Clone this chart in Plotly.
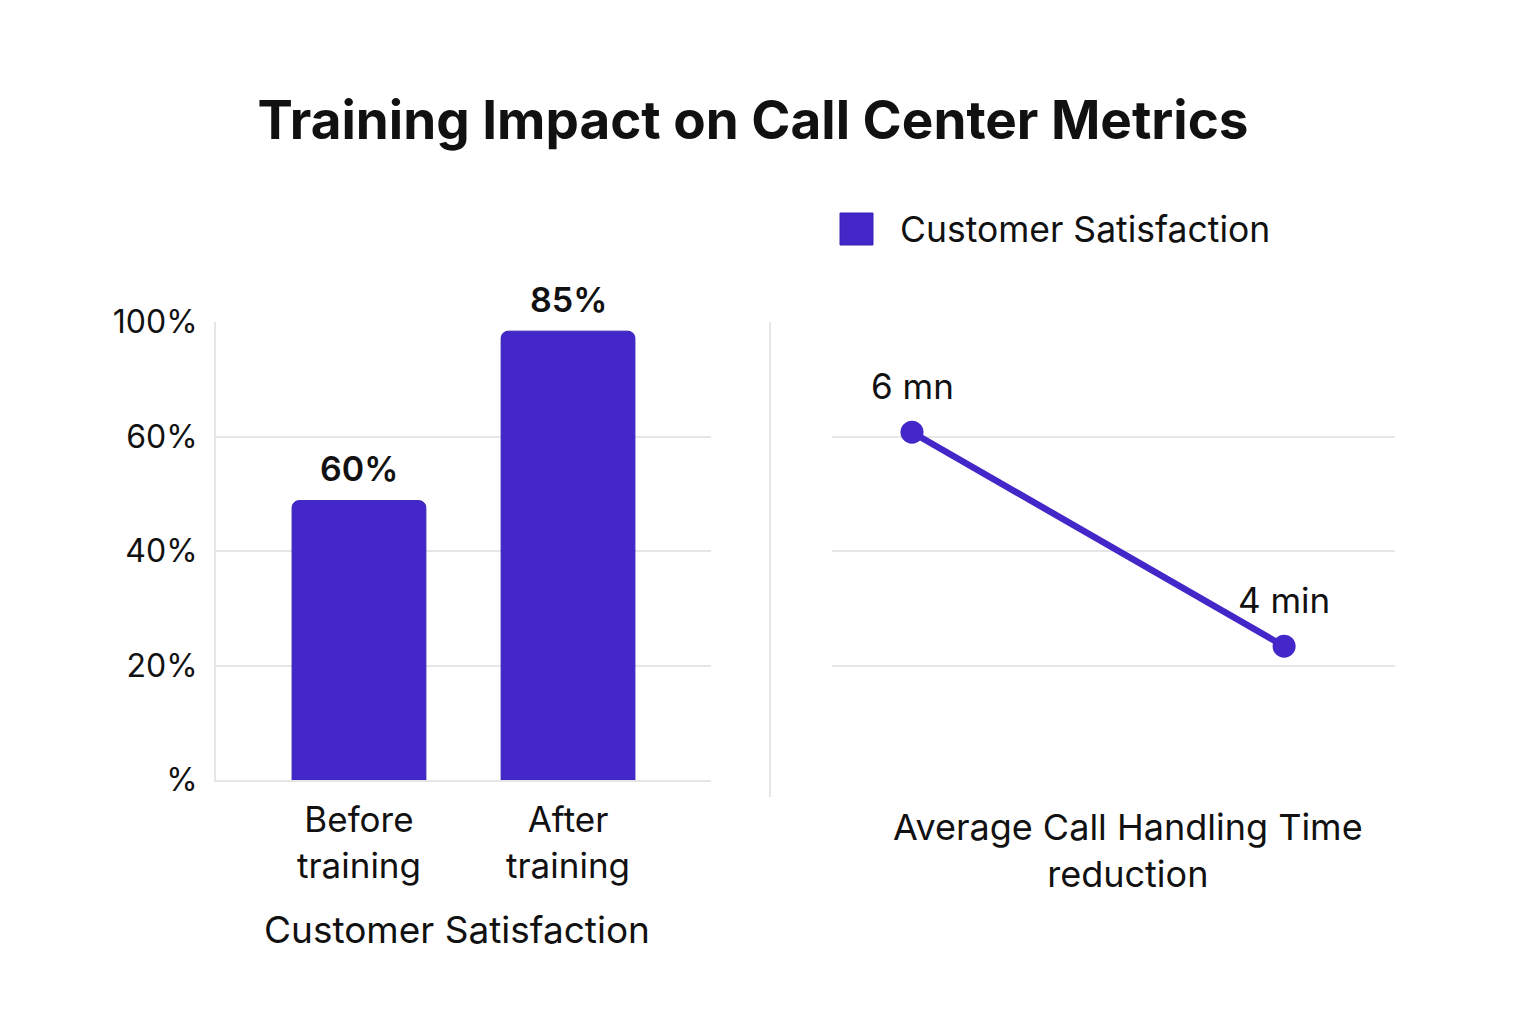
import numpy as np
import plotly.graph_objects as go

# --- data ---
bar_cats = ["Before<br>training", "After<br>training"]
bar_heights = [61, 98]            # visual bar heights on the 0-100 axis
bar_labels = ["60%", "85%"]       # labels printed above bars
y_tickvals = [0, 25, 50, 75, 100]
y_ticktext = ["%", "20%", "40%", "60%", "100%"]

line_cats = ["Before", "After"]
line_minutes = [6, 4]
line_labels = ["6 mn", "4 min"]

PURPLE = "#4327C9"
GRID = "#e6e6e6"
FONT = "Inter"
W, H = 1536, 1024
OFF = 8  # page body margin

fig = go.Figure()

fig.add_trace(go.Bar(
    x=bar_cats, y=bar_heights,
    marker=dict(color=PURPLE, line=dict(color="#3a20b8", width=1)),
    width=0.64, showlegend=False,
    xaxis="x", yaxis="y",
))

fig.add_trace(go.Scatter(
    x=line_cats, y=line_minutes, mode="lines+markers",
    line=dict(color=PURPLE, width=6.5),
    marker=dict(color=PURPLE, size=23),
    cliponaxis=False, showlegend=False,
    xaxis="x2", yaxis="y2",
))

# value labels
for c, v, t in zip(bar_cats, bar_heights, bar_labels):
    fig.add_annotation(x=c, y=v, xref="x", yref="y", text=t, showarrow=False,
                       yanchor="middle", yshift=32,
                       font=dict(size=34, weight=600))
for c, v, t in zip(line_cats, line_minutes, line_labels):
    fig.add_annotation(x=c, y=v, xref="x2", yref="y2", text=t, showarrow=False,
                       yanchor="middle", yshift=46, font=dict(size=35))

# right y range so the grid lines match the left panel
r_lo, r_hi = 2.75, 7.03
r_ticks = list(np.linspace(r_lo, r_hi, 5))

def px(x):
    return (x - OFF) / W

def py(y):
    return 1 - (y - OFF) / H

fig.update_layout(
    width=W, height=H,
    margin=dict(l=0, r=0, t=0, b=0, autoexpand=False),
    paper_bgcolor="white", plot_bgcolor="white",
    font=dict(family=FONT, color="#111111", size=33),
    barcornerradius=7,
    title=dict(text="<b>Training Impact on Call Center Metrics</b>",
               x=px(753), xanchor="center", y=py(120), yanchor="middle",
               font=dict(family=FONT, size=53, color="#111111")),
    xaxis=dict(domain=[px(216), px(711)], range=[-0.684, 1.684],
               automargin=False,
               showline=True, linecolor=GRID, linewidth=2,
               showgrid=False, ticks="", ticklabelstandoff=8,
               tickfont=dict(size=35)),
    yaxis=dict(domain=[py(780), py(322)], range=[0, 100],
               automargin=False,
               tickvals=y_tickvals, ticktext=y_ticktext,
               showline=True, linecolor=GRID, linewidth=2,
               gridcolor=GRID, gridwidth=2, zeroline=False,
               ticks="", ticklabelstandoff=10, tickfont=dict(size=32)),
    xaxis2=dict(domain=[px(832), px(1395)], range=[-0.215, 1.298],
                automargin=False,
                anchor="y2", showticklabels=False, showgrid=False,
                showline=False, zeroline=False),
    yaxis2=dict(domain=[py(780), py(322)], range=[r_lo, r_hi], anchor="x2",
                automargin=False,
                tickvals=r_ticks, showticklabels=False,
                gridcolor=GRID, gridwidth=2, zeroline=False, showline=False),
)

# divider between panels
fig.add_shape(type="line", xref="paper", yref="paper",
              x0=px(770), x1=px(770), y0=py(797), y1=py(322),
              line=dict(color=GRID, width=2))

# legend swatch + label
fig.add_shape(type="rect", xref="paper", yref="paper",
              x0=px(840), x1=px(873), y0=py(245), y1=py(213),
              fillcolor=PURPLE, line=dict(color="#3a20b8", width=1))
fig.add_annotation(text="Customer Satisfaction", xref="paper", yref="paper",
                   x=px(898), y=py(229), xanchor="left", yanchor="middle",
                   showarrow=False, font=dict(size=35.5))

# axis captions
fig.add_annotation(text="Customer Satisfaction",
                   xref="paper", yref="paper", x=px(457), y=py(929),
                   xanchor="center", yanchor="middle", showarrow=False,
                   font=dict(size=37))
fig.add_annotation(text="Average Call Handling Time<br>reduction",
                   xref="paper", yref="paper", x=px(1128), y=py(850),
                   xanchor="center", yanchor="middle", showarrow=False,
                   font=dict(size=36))

fig.write_html("out.html")
